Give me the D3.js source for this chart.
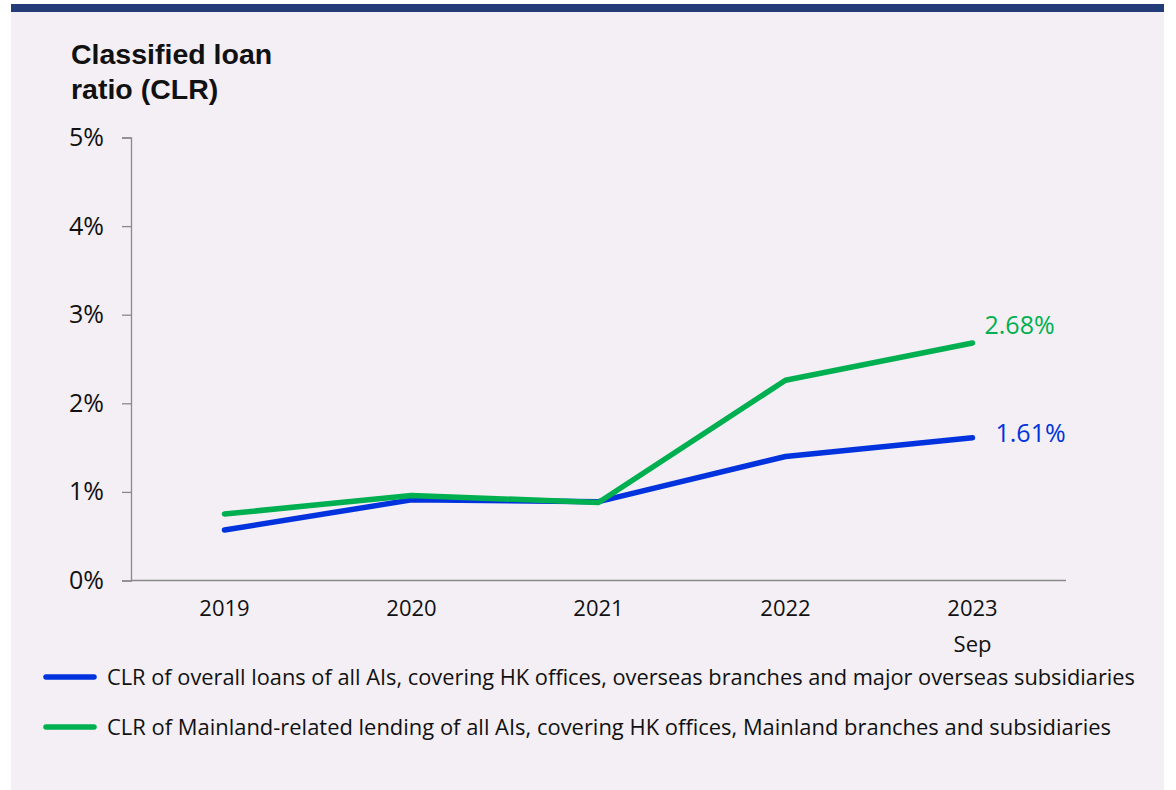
<!DOCTYPE html>
<html>
<head>
<meta charset="utf-8">
<script src="https://cdn.jsdelivr.net/npm/d3@7/dist/d3.min.js"></script>
<style>
  body { margin: 0; background: #fff; }
  text { font-family: "Open Sans", "Noto Sans", sans-serif; }
</style>
</head>
<body>
<div id="chart"></div>
<script>
// data
var years = ["2019", "2020", "2021", "2022", "2023"];
var yearSub = ["", "", "", "", "Sep"];
var overallClr = [0.57, 0.91, 0.89, 1.40, 1.61];
var mainlandClr = [0.75, 0.96, 0.88, 2.26, 2.68];
var yTicks = [0, 1, 2, 3, 4, 5];
var seriesNames = [
  "CLR of overall loans of all AIs, covering HK offices, overseas branches and major overseas subsidiaries",
  "CLR of Mainland-related lending of all AIs, covering HK offices, Mainland branches and subsidiaries"
];
var seriesColors = ["#0033dd", "#00b050"];

var W = 1176, H = 790;
var svg = d3.select("#chart").append("svg")
  .attr("width", W).attr("height", H);

// panel + top bar
svg.append("rect").attr("x", 11).attr("y", 4).attr("width", 1153).attr("height", 786)
  .attr("fill", "#f3eff5");
svg.append("rect").attr("x", 11).attr("y", 4).attr("width", 1153).attr("height", 8)
  .attr("fill", "#233c78");

// title
var title = svg.append("text")
  .style("font-family", "'Liberation Sans', Arial, sans-serif")
  .attr("font-weight", "bold").attr("font-size", 28.5).attr("fill", "#111");
title.append("tspan").attr("x", 71).attr("y", 64).text("Classified loan");
title.append("tspan").attr("x", 71).attr("y", 99).text("ratio (CLR)");

var plotL = 131, plotR = 1066, plotT = 137.5, plotB = 580.5;
var x = d3.scaleBand().domain(years).range([plotL, plotR]);
var y = d3.scaleLinear().domain([0, 5]).range([plotB, plotT]);

// y axis
var yAxis = svg.append("g").attr("transform", "translate(" + plotL + ",0)")
  .call(d3.axisLeft(y).tickValues(yTicks).tickSize(9).tickPadding(18)
    .tickFormat(function(d) { return d + "%"; }));
yAxis.select(".domain").attr("stroke", "#8a8a8a").attr("stroke-width", 1.3);
yAxis.selectAll(".tick line").attr("stroke", "#8a8a8a").attr("stroke-width", 1.3);
yAxis.selectAll(".tick text").attr("font-size", 25).attr("fill", "#111");

// x axis
var xAxis = svg.append("g").attr("transform", "translate(0," + plotB + ")")
  .call(d3.axisBottom(x).tickSize(0).tickPadding(20));
xAxis.select(".domain").attr("stroke", "#8a8a8a").attr("stroke-width", 1.5)
  .attr("d", "M" + plotL + ",0H" + plotR);
xAxis.selectAll(".tick text").attr("font-size", 22).attr("fill", "#111")
  .each(function(d, i) {
    if (yearSub[i]) {
      d3.select(this).append("tspan").attr("x", 0).attr("dy", "1.65em").text(yearSub[i]);
    }
  });

// lines
var line = d3.line()
  .x(function(d, i) { return x(years[i]) + x.bandwidth() / 2; })
  .y(function(d) { return y(d); });

[overallClr, mainlandClr].forEach(function(vals, k) {
  svg.append("path").datum(vals)
    .attr("d", line)
    .attr("fill", "none")
    .attr("stroke", seriesColors[k])
    .attr("stroke-width", 5.5)
    .attr("stroke-linecap", "round")
    .attr("stroke-linejoin", "round");
});

// end labels
var lastX = x(years[4]) + x.bandwidth() / 2;
svg.append("text").attr("x", lastX + 12).attr("y", y(mainlandClr[4]) - 9)
  .attr("font-size", 25).attr("fill", seriesColors[1])
  .text(mainlandClr[4].toFixed(2) + "%");
svg.append("text").attr("x", lastX + 23).attr("y", y(overallClr[4]) + 4)
  .attr("font-size", 25).attr("fill", seriesColors[0])
  .text(overallClr[4].toFixed(2) + "%");

// legend
seriesNames.forEach(function(name, k) {
  var ly = 677 + k * 50;
  svg.append("line").attr("x1", 46).attr("x2", 94).attr("y1", ly).attr("y2", ly)
    .attr("stroke", seriesColors[k]).attr("stroke-width", 5.5).attr("stroke-linecap", "round");
  svg.append("text").attr("x", 107).attr("y", ly + 8)
    .attr("font-size", 21).attr("fill", "#111")
    .attr("textLength", k == 0 ? 1028 : 1004).attr("lengthAdjust", "spacingAndGlyphs")
    .text(name);
});
</script>
</body>
</html>
